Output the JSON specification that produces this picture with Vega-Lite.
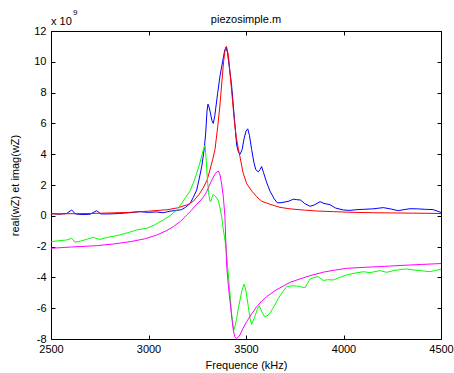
{
  "$schema": "https://vega.github.io/schema/vega-lite/v6.json",
  "width": 390,
  "height": 308,
  "autosize": {"type": "none"},
  "padding": {"left": 51, "top": 31, "right": 13, "bottom": 34},
  "background": "white",
  "config": {
    "font": "Liberation Sans",
    "view": {"stroke": "black", "strokeWidth": 1},
    "axis": {"grid": false, "domain": false, "labelFont": "Liberation Sans", "labelFontSize": 11, "labelColor": "black", "titleFont": "Liberation Sans", "titleFontSize": 11, "titleFontWeight": "normal", "titleColor": "black", "tickColor": "black", "tickSize": -4, "tickWidth": 1}
  },
  "title": {"text": "piezosimple.m", "fontSize": 11, "fontWeight": "normal", "font": "Liberation Sans", "color": "black", "offset": -16},
  "datasets": {
    "curves": [
      {"s": "real_mes", "f": 2500, "v": 0.15}, {"s": "real_mes", "f": 2540, "v": 0.1}, {"s": "real_mes", "f": 2580, "v": 0.15}, {"s": "real_mes", "f": 2606, "v": 0.38}, {"s": "real_mes", "f": 2625, "v": 0.12}, {"s": "real_mes", "f": 2660, "v": 0.08}, {"s": "real_mes", "f": 2700, "v": 0.1}, {"s": "real_mes", "f": 2734, "v": 0.33}, {"s": "real_mes", "f": 2755, "v": 0.12}, {"s": "real_mes", "f": 2800, "v": 0.12}, {"s": "real_mes", "f": 2850, "v": 0.15}, {"s": "real_mes", "f": 2900, "v": 0.2}, {"s": "real_mes", "f": 2956, "v": 0.27}, {"s": "real_mes", "f": 3000, "v": 0.22}, {"s": "real_mes", "f": 3040, "v": 0.25}, {"s": "real_mes", "f": 3076, "v": 0.2}, {"s": "real_mes", "f": 3110, "v": 0.3}, {"s": "real_mes", "f": 3145, "v": 0.35}, {"s": "real_mes", "f": 3170, "v": 0.4}, {"s": "real_mes", "f": 3190, "v": 0.55}, {"s": "real_mes", "f": 3213, "v": 0.8}, {"s": "real_mes", "f": 3230, "v": 1.2}, {"s": "real_mes", "f": 3247, "v": 1.67}, {"s": "real_mes", "f": 3260, "v": 2.4}, {"s": "real_mes", "f": 3273, "v": 3.2}, {"s": "real_mes", "f": 3285, "v": 4.27}, {"s": "real_mes", "f": 3293, "v": 5.3}, {"s": "real_mes", "f": 3300, "v": 6.8}, {"s": "real_mes", "f": 3305, "v": 7.25}, {"s": "real_mes", "f": 3312, "v": 7.0}, {"s": "real_mes", "f": 3325, "v": 6.2}, {"s": "real_mes", "f": 3332, "v": 6.0}, {"s": "real_mes", "f": 3340, "v": 6.5}, {"s": "real_mes", "f": 3355, "v": 8.0}, {"s": "real_mes", "f": 3367, "v": 9.1}, {"s": "real_mes", "f": 3380, "v": 10.0}, {"s": "real_mes", "f": 3390, "v": 10.7}, {"s": "real_mes", "f": 3397, "v": 10.95}, {"s": "real_mes", "f": 3405, "v": 10.6}, {"s": "real_mes", "f": 3415, "v": 9.6}, {"s": "real_mes", "f": 3426, "v": 8.5}, {"s": "real_mes", "f": 3440, "v": 6.4}, {"s": "real_mes", "f": 3452, "v": 4.6}, {"s": "real_mes", "f": 3462, "v": 4.1}, {"s": "real_mes", "f": 3470, "v": 4.0}, {"s": "real_mes", "f": 3480, "v": 4.3}, {"s": "real_mes", "f": 3490, "v": 5.0}, {"s": "real_mes", "f": 3500, "v": 5.5}, {"s": "real_mes", "f": 3509, "v": 5.65}, {"s": "real_mes", "f": 3518, "v": 5.2}, {"s": "real_mes", "f": 3529, "v": 4.3}, {"s": "real_mes", "f": 3540, "v": 3.5}, {"s": "real_mes", "f": 3550, "v": 3.0}, {"s": "real_mes", "f": 3563, "v": 2.85}, {"s": "real_mes", "f": 3572, "v": 3.0}, {"s": "real_mes", "f": 3580, "v": 3.2}, {"s": "real_mes", "f": 3590, "v": 2.8}, {"s": "real_mes", "f": 3605, "v": 2.2}, {"s": "real_mes", "f": 3623, "v": 1.6}, {"s": "real_mes", "f": 3645, "v": 1.1}, {"s": "real_mes", "f": 3660, "v": 0.85}, {"s": "real_mes", "f": 3680, "v": 0.85}, {"s": "real_mes", "f": 3700, "v": 0.9}, {"s": "real_mes", "f": 3720, "v": 0.95}, {"s": "real_mes", "f": 3743, "v": 1.08}, {"s": "real_mes", "f": 3760, "v": 1.05}, {"s": "real_mes", "f": 3780, "v": 1.02}, {"s": "real_mes", "f": 3800, "v": 0.8}, {"s": "real_mes", "f": 3828, "v": 0.62}, {"s": "real_mes", "f": 3850, "v": 0.7}, {"s": "real_mes", "f": 3880, "v": 0.92}, {"s": "real_mes", "f": 3900, "v": 0.8}, {"s": "real_mes", "f": 3931, "v": 0.72}, {"s": "real_mes", "f": 3960, "v": 0.5}, {"s": "real_mes", "f": 3999, "v": 0.38}, {"s": "real_mes", "f": 4033, "v": 0.35}, {"s": "real_mes", "f": 4070, "v": 0.4}, {"s": "real_mes", "f": 4102, "v": 0.42}, {"s": "real_mes", "f": 4150, "v": 0.45}, {"s": "real_mes", "f": 4204, "v": 0.53}, {"s": "real_mes", "f": 4240, "v": 0.45}, {"s": "real_mes", "f": 4281, "v": 0.33}, {"s": "real_mes", "f": 4310, "v": 0.4}, {"s": "real_mes", "f": 4341, "v": 0.46}, {"s": "real_mes", "f": 4380, "v": 0.45}, {"s": "real_mes", "f": 4420, "v": 0.42}, {"s": "real_mes", "f": 4460, "v": 0.4}, {"s": "real_mes", "f": 4500, "v": 0.22},

      {"s": "real_mod", "f": 2500, "v": 0.12}, {"s": "real_mod", "f": 2700, "v": 0.15}, {"s": "real_mod", "f": 2900, "v": 0.22}, {"s": "real_mod", "f": 3000, "v": 0.3}, {"s": "real_mod", "f": 3100, "v": 0.4}, {"s": "real_mod", "f": 3150, "v": 0.52}, {"s": "real_mod", "f": 3200, "v": 0.72}, {"s": "real_mod", "f": 3230, "v": 0.95}, {"s": "real_mod", "f": 3260, "v": 1.4}, {"s": "real_mod", "f": 3280, "v": 1.8}, {"s": "real_mod", "f": 3300, "v": 2.3}, {"s": "real_mod", "f": 3315, "v": 2.97}, {"s": "real_mod", "f": 3330, "v": 3.7}, {"s": "real_mod", "f": 3341, "v": 4.3}, {"s": "real_mod", "f": 3355, "v": 5.8}, {"s": "real_mod", "f": 3365, "v": 7.0}, {"s": "real_mod", "f": 3375, "v": 8.5}, {"s": "real_mod", "f": 3385, "v": 10.0}, {"s": "real_mod", "f": 3393, "v": 10.8}, {"s": "real_mod", "f": 3400, "v": 11.0}, {"s": "real_mod", "f": 3410, "v": 10.4}, {"s": "real_mod", "f": 3420, "v": 9.0}, {"s": "real_mod", "f": 3430, "v": 7.6}, {"s": "real_mod", "f": 3440, "v": 6.2}, {"s": "real_mod", "f": 3450, "v": 5.1}, {"s": "real_mod", "f": 3460, "v": 4.4}, {"s": "real_mod", "f": 3469, "v": 3.84}, {"s": "real_mod", "f": 3485, "v": 2.8}, {"s": "real_mod", "f": 3503, "v": 2.1}, {"s": "real_mod", "f": 3530, "v": 1.6}, {"s": "real_mod", "f": 3555, "v": 1.24}, {"s": "real_mod", "f": 3580, "v": 0.95}, {"s": "real_mod", "f": 3623, "v": 0.75}, {"s": "real_mod", "f": 3674, "v": 0.55}, {"s": "real_mod", "f": 3726, "v": 0.45}, {"s": "real_mod", "f": 3800, "v": 0.37}, {"s": "real_mod", "f": 3862, "v": 0.31}, {"s": "real_mod", "f": 3950, "v": 0.27}, {"s": "real_mod", "f": 4033, "v": 0.23}, {"s": "real_mod", "f": 4150, "v": 0.2}, {"s": "real_mod", "f": 4300, "v": 0.18}, {"s": "real_mod", "f": 4500, "v": 0.15},

      {"s": "imag_mes", "f": 2500, "v": -1.68}, {"s": "imag_mes", "f": 2540, "v": -1.62}, {"s": "imag_mes", "f": 2580, "v": -1.57}, {"s": "imag_mes", "f": 2606, "v": -1.46}, {"s": "imag_mes", "f": 2623, "v": -1.72}, {"s": "imag_mes", "f": 2650, "v": -1.65}, {"s": "imag_mes", "f": 2690, "v": -1.5}, {"s": "imag_mes", "f": 2717, "v": -1.4}, {"s": "imag_mes", "f": 2740, "v": -1.5}, {"s": "imag_mes", "f": 2751, "v": -1.53}, {"s": "imag_mes", "f": 2790, "v": -1.4}, {"s": "imag_mes", "f": 2837, "v": -1.29}, {"s": "imag_mes", "f": 2880, "v": -1.15}, {"s": "imag_mes", "f": 2940, "v": -0.92}, {"s": "imag_mes", "f": 2991, "v": -0.81}, {"s": "imag_mes", "f": 3030, "v": -0.6}, {"s": "imag_mes", "f": 3076, "v": -0.27}, {"s": "imag_mes", "f": 3110, "v": 0.0}, {"s": "imag_mes", "f": 3145, "v": 0.38}, {"s": "imag_mes", "f": 3170, "v": 0.8}, {"s": "imag_mes", "f": 3190, "v": 1.2}, {"s": "imag_mes", "f": 3213, "v": 1.6}, {"s": "imag_mes", "f": 3235, "v": 2.3}, {"s": "imag_mes", "f": 3247, "v": 2.76}, {"s": "imag_mes", "f": 3265, "v": 3.5}, {"s": "imag_mes", "f": 3281, "v": 4.27}, {"s": "imag_mes", "f": 3290, "v": 4.6}, {"s": "imag_mes", "f": 3296, "v": 3.6}, {"s": "imag_mes", "f": 3302, "v": 2.4}, {"s": "imag_mes", "f": 3308, "v": 1.5}, {"s": "imag_mes", "f": 3315, "v": 0.95}, {"s": "imag_mes", "f": 3320, "v": 0.92}, {"s": "imag_mes", "f": 3326, "v": 1.2}, {"s": "imag_mes", "f": 3332, "v": 1.4}, {"s": "imag_mes", "f": 3340, "v": 1.3}, {"s": "imag_mes", "f": 3350, "v": 1.15}, {"s": "imag_mes", "f": 3358, "v": 1.0}, {"s": "imag_mes", "f": 3367, "v": 0.5}, {"s": "imag_mes", "f": 3375, "v": -0.06}, {"s": "imag_mes", "f": 3384, "v": -0.92}, {"s": "imag_mes", "f": 3396, "v": -1.9}, {"s": "imag_mes", "f": 3409, "v": -3.73}, {"s": "imag_mes", "f": 3418, "v": -5.1}, {"s": "imag_mes", "f": 3426, "v": -6.33}, {"s": "imag_mes", "f": 3433, "v": -7.1}, {"s": "imag_mes", "f": 3438, "v": -7.42}, {"s": "imag_mes", "f": 3445, "v": -7.1}, {"s": "imag_mes", "f": 3452, "v": -6.66}, {"s": "imag_mes", "f": 3461, "v": -6.0}, {"s": "imag_mes", "f": 3469, "v": -5.47}, {"s": "imag_mes", "f": 3480, "v": -4.8}, {"s": "imag_mes", "f": 3491, "v": -4.43}, {"s": "imag_mes", "f": 3500, "v": -4.9}, {"s": "imag_mes", "f": 3512, "v": -5.9}, {"s": "imag_mes", "f": 3521, "v": -6.7}, {"s": "imag_mes", "f": 3529, "v": -7.05}, {"s": "imag_mes", "f": 3540, "v": -6.7}, {"s": "imag_mes", "f": 3551, "v": -6.33}, {"s": "imag_mes", "f": 3560, "v": -6.0}, {"s": "imag_mes", "f": 3568, "v": -5.84}, {"s": "imag_mes", "f": 3580, "v": -6.2}, {"s": "imag_mes", "f": 3594, "v": -6.55}, {"s": "imag_mes", "f": 3608, "v": -6.5}, {"s": "imag_mes", "f": 3623, "v": -6.33}, {"s": "imag_mes", "f": 3645, "v": -5.85}, {"s": "imag_mes", "f": 3666, "v": -5.36}, {"s": "imag_mes", "f": 3690, "v": -4.9}, {"s": "imag_mes", "f": 3709, "v": -4.6}, {"s": "imag_mes", "f": 3735, "v": -4.55}, {"s": "imag_mes", "f": 3760, "v": -4.56}, {"s": "imag_mes", "f": 3790, "v": -4.64}, {"s": "imag_mes", "f": 3803, "v": -4.67}, {"s": "imag_mes", "f": 3815, "v": -4.4}, {"s": "imag_mes", "f": 3828, "v": -4.1}, {"s": "imag_mes", "f": 3850, "v": -4.0}, {"s": "imag_mes", "f": 3871, "v": -3.95}, {"s": "imag_mes", "f": 3896, "v": -4.2}, {"s": "imag_mes", "f": 3920, "v": -4.15}, {"s": "imag_mes", "f": 3947, "v": -4.17}, {"s": "imag_mes", "f": 3980, "v": -4.0}, {"s": "imag_mes", "f": 4016, "v": -3.84}, {"s": "imag_mes", "f": 4060, "v": -3.72}, {"s": "imag_mes", "f": 4102, "v": -3.63}, {"s": "imag_mes", "f": 4136, "v": -3.69}, {"s": "imag_mes", "f": 4187, "v": -3.56}, {"s": "imag_mes", "f": 4221, "v": -3.67}, {"s": "imag_mes", "f": 4260, "v": -3.55}, {"s": "imag_mes", "f": 4307, "v": -3.47}, {"s": "imag_mes", "f": 4324, "v": -3.45}, {"s": "imag_mes", "f": 4360, "v": -3.52}, {"s": "imag_mes", "f": 4392, "v": -3.56}, {"s": "imag_mes", "f": 4444, "v": -3.63}, {"s": "imag_mes", "f": 4470, "v": -3.55}, {"s": "imag_mes", "f": 4500, "v": -3.47},

      {"s": "imag_mod", "f": 2500, "v": -2.11}, {"s": "imag_mod", "f": 2600, "v": -2.03}, {"s": "imag_mod", "f": 2734, "v": -1.94}, {"s": "imag_mod", "f": 2820, "v": -1.83}, {"s": "imag_mod", "f": 2905, "v": -1.68}, {"s": "imag_mod", "f": 2980, "v": -1.5}, {"s": "imag_mod", "f": 3042, "v": -1.25}, {"s": "imag_mod", "f": 3090, "v": -0.98}, {"s": "imag_mod", "f": 3127, "v": -0.71}, {"s": "imag_mod", "f": 3165, "v": -0.35}, {"s": "imag_mod", "f": 3196, "v": 0.05}, {"s": "imag_mod", "f": 3220, "v": 0.35}, {"s": "imag_mod", "f": 3247, "v": 0.75}, {"s": "imag_mod", "f": 3264, "v": 0.95}, {"s": "imag_mod", "f": 3280, "v": 1.2}, {"s": "imag_mod", "f": 3298, "v": 1.55}, {"s": "imag_mod", "f": 3310, "v": 1.9}, {"s": "imag_mod", "f": 3324, "v": 2.3}, {"s": "imag_mod", "f": 3340, "v": 2.7}, {"s": "imag_mod", "f": 3350, "v": 2.85}, {"s": "imag_mod", "f": 3358, "v": 2.9}, {"s": "imag_mod", "f": 3367, "v": 2.65}, {"s": "imag_mod", "f": 3376, "v": 2.0}, {"s": "imag_mod", "f": 3384, "v": 1.2}, {"s": "imag_mod", "f": 3392, "v": -0.06}, {"s": "imag_mod", "f": 3401, "v": -3.3}, {"s": "imag_mod", "f": 3410, "v": -4.6}, {"s": "imag_mod", "f": 3421, "v": -5.9}, {"s": "imag_mod", "f": 3428, "v": -6.7}, {"s": "imag_mod", "f": 3435, "v": -7.42}, {"s": "imag_mod", "f": 3442, "v": -7.85}, {"s": "imag_mod", "f": 3449, "v": -7.96}, {"s": "imag_mod", "f": 3458, "v": -7.9}, {"s": "imag_mod", "f": 3469, "v": -7.74}, {"s": "imag_mod", "f": 3485, "v": -7.3}, {"s": "imag_mod", "f": 3503, "v": -6.88}, {"s": "imag_mod", "f": 3530, "v": -6.35}, {"s": "imag_mod", "f": 3555, "v": -5.9}, {"s": "imag_mod", "f": 3580, "v": -5.55}, {"s": "imag_mod", "f": 3606, "v": -5.25}, {"s": "imag_mod", "f": 3650, "v": -4.85}, {"s": "imag_mod", "f": 3691, "v": -4.56}, {"s": "imag_mod", "f": 3730, "v": -4.3}, {"s": "imag_mod", "f": 3777, "v": -4.1}, {"s": "imag_mod", "f": 3828, "v": -3.89}, {"s": "imag_mod", "f": 3900, "v": -3.65}, {"s": "imag_mod", "f": 3960, "v": -3.52}, {"s": "imag_mod", "f": 4016, "v": -3.41}, {"s": "imag_mod", "f": 4100, "v": -3.35}, {"s": "imag_mod", "f": 4187, "v": -3.3}, {"s": "imag_mod", "f": 4300, "v": -3.22}, {"s": "imag_mod", "f": 4400, "v": -3.16}, {"s": "imag_mod", "f": 4500, "v": -3.1}
    ],
    "exponent": [{"label": "x 10", "power": "9"}]
  },
  "layer": [
    {
      "data": {"name": "curves"},
      "mark": {"type": "line", "strokeWidth": 1, "clip": true},
      "encoding": {
        "x": {"field": "f", "type": "quantitative", "scale": {"domain": [2500, 4500], "nice": false, "zero": false},
              "axis": {"orient": "bottom", "values": [2500, 3000, 3500, 4000, 4500], "format": "d", "labelPadding": 8, "title": "Frequence (kHz)", "titlePadding": 5, "labelFlush": false}},
        "y": {"field": "v", "type": "quantitative", "scale": {"domain": [-8, 12], "nice": false, "zero": false},
              "axis": {"orient": "left", "values": [-8, -6, -4, -2, 0, 2, 4, 6, 8, 10, 12], "labelExpr": "'' + datum.value", "labelPadding": 9, "title": "real(wZ) et imag(wZ)", "titlePadding": 13, "labelFlush": false}},
        "color": {"field": "s", "type": "nominal", "legend": null,
                  "scale": {"domain": ["real_mes", "imag_mes", "real_mod", "imag_mod"], "range": ["#0000ff", "#00ff00", "#ff0000", "#ff00ff"]}},
        "order": {"field": "f", "type": "quantitative"}
      }
    },
    {
      "data": {"name": "exponent"},
      "mark": {"type": "text", "align": "left", "baseline": "alphabetic", "fontSize": 11, "font": "Liberation Sans", "color": "black", "dy": -6},
      "encoding": {
        "x": {"datum": 2500, "type": "quantitative", "axis": {"orient": "top", "values": [2500, 3000, 3500, 4000, 4500], "labels": false, "title": null}},
        "y": {"datum": 12, "type": "quantitative", "axis": {"orient": "right", "values": [-8, -6, -4, -2, 0, 2, 4, 6, 8, 10, 12], "labels": false, "title": null}},
        "text": {"field": "label"}
      }
    },
    {
      "data": {"name": "exponent"},
      "mark": {"type": "text", "align": "left", "baseline": "alphabetic", "fontSize": 8, "font": "Liberation Sans", "color": "black", "dx": 22, "dy": -16},
      "encoding": {
        "x": {"datum": 2500, "type": "quantitative", "axis": null},
        "y": {"datum": 12, "type": "quantitative", "axis": null},
        "text": {"field": "power"}
      }
    }
  ],
  "resolve": {"axis": {"x": "independent", "y": "independent"}}
}
